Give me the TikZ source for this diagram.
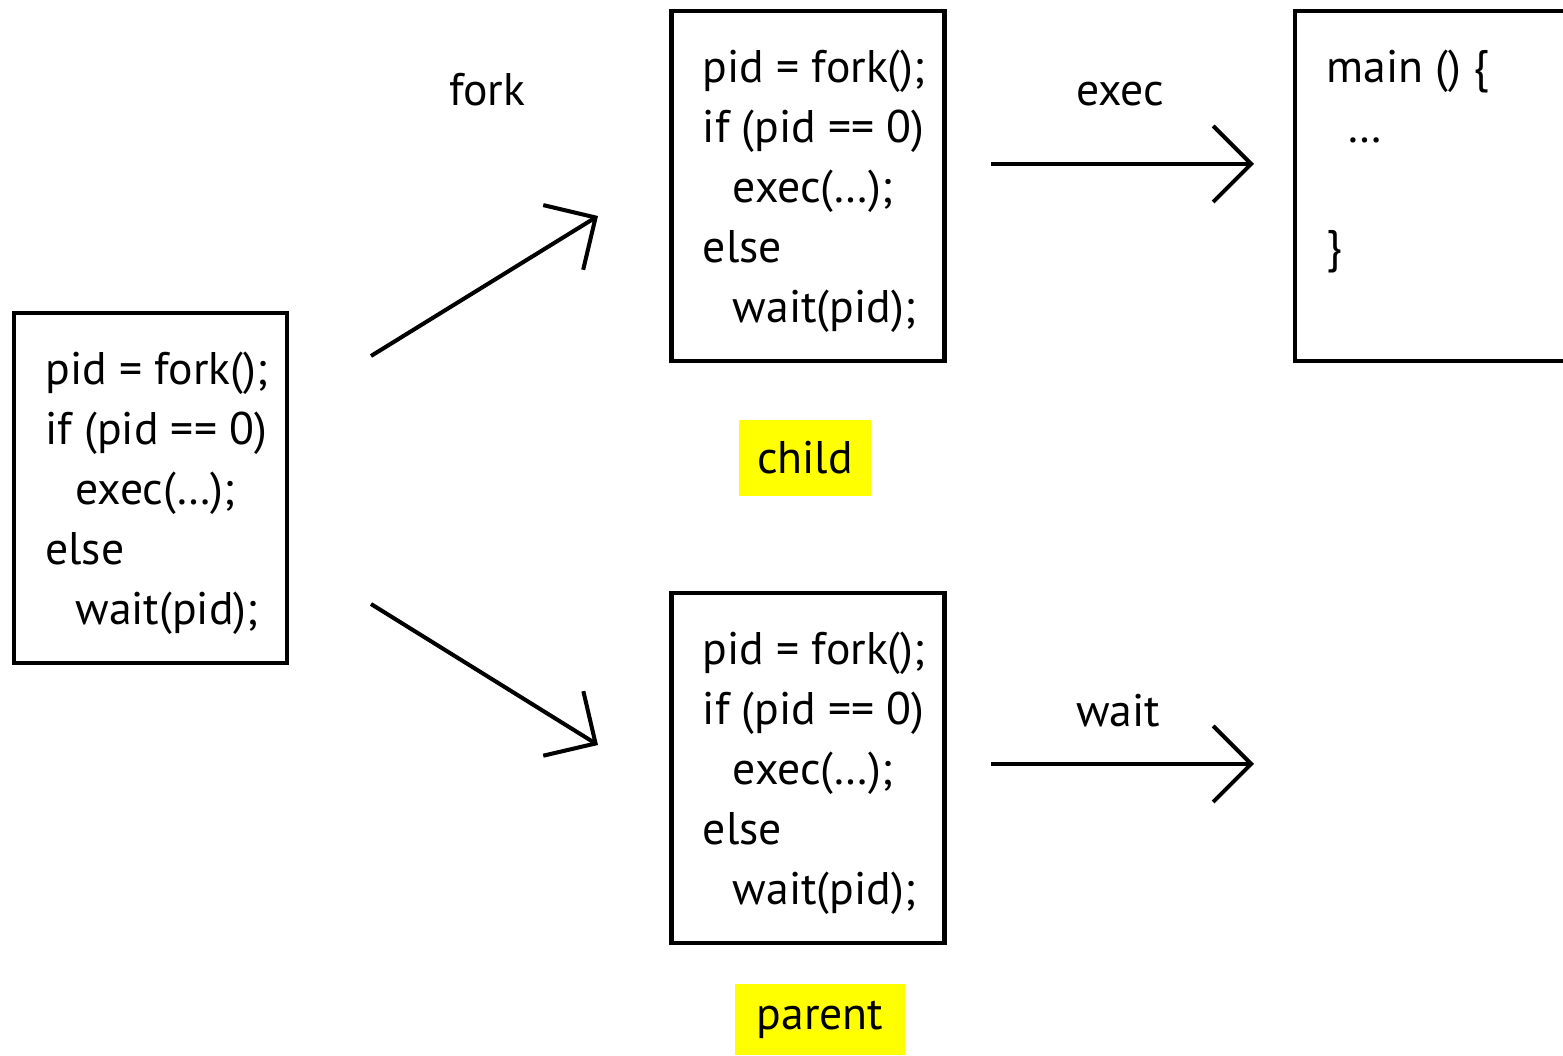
\documentclass[tikz,border=0pt]{standalone}
\usepackage{fontspec}
\setmainfont{PT Sans}
\usetikzlibrary{arrows.meta,positioning}
\definecolor{tagyellow}{RGB}{255,255,0}

\begin{document}
\begin{tikzpicture}[
    font=\fontsize{13}{17.07}\selectfont,
    box/.style={draw, line width=1.3pt, minimum width=2.73cm, minimum height=3.5cm, inner sep=0pt},
    code/.style={align=left, inner sep=0pt, anchor=north west},
    tag/.style={fill=tagyellow, inner sep=0pt},
    flow/.style={line width=1.15pt, -{Straight Barb[length=3.8mm, width=7.6mm]}}
  ]
  \useasboundingbox (0,0) rectangle (15.63,10.56);

  % process before the fork
  \node[box] (orig) at (1.505,5.68) {};
  \node[code] (origcode) at ([xshift=0.33cm,yshift=-0.41cm]orig.north west)
    {pid = fork();\\if (pid == 0)\\\hspace*{0.3cm}exec(…);\\else\\\hspace*{0.3cm}wait(pid);};

  % the two copies after the fork
  \node[box] (child) at (8.08,8.70) {};
  \node[code] (childcode) at ([xshift=0.33cm,yshift=-0.41cm]child.north west)
    {pid = fork();\\if (pid == 0)\\\hspace*{0.3cm}exec(…);\\else\\\hspace*{0.3cm}wait(pid);};
  \node[box] (parent) at (8.08,2.88) {};
  \node[code] (parentcode) at ([xshift=0.33cm,yshift=-0.41cm]parent.north west)
    {pid = fork();\\if (pid == 0)\\\hspace*{0.3cm}exec(…);\\else\\\hspace*{0.3cm}wait(pid);};
  \node[tag, minimum width=1.32cm, minimum height=0.76cm] (childtag) at (8.05,5.98) {child};
  \node[tag, minimum width=1.70cm, minimum height=0.71cm] (parenttag) at (8.20,0.365) {parent};

  % new program image, runs off the right edge
  \node[box] (newprog) at (14.315,8.70) {};
  \node[code] (newprogcode) at ([xshift=0.33cm,yshift=-0.41cm]newprog.north west)
    {main () \{\\\hspace*{0.21cm}…\\ \\\}};

  \coordinate (up0) at (3.71,7.00);
  \coordinate (up1) at (5.98,8.40);
  \coordinate (down0) at (3.71,4.52);
  \coordinate (down1) at (5.98,3.11);
  \coordinate (exec0) at (9.91,8.92);
  \coordinate (exec1) at (12.54,8.92);
  \coordinate (wait0) at (9.91,2.92);
  \coordinate (wait1) at (12.54,2.92);
  \draw[flow] (up0) -- (up1);
  \draw[flow] (down0) -- (down1);
  \draw[flow] (exec0) -- (exec1);
  \draw[flow] (wait0) -- (wait1);

  \node[anchor=base] (forklbl) at (4.87,9.50) {fork};
  \node[anchor=base] (execlbl) at (11.20,9.50) {exec};
  \node[anchor=base] (waitlbl) at (11.18,3.29) {wait};
\end{tikzpicture}
\end{document}
